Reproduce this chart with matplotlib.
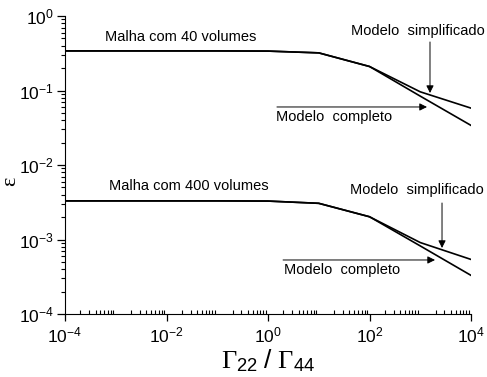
import numpy as np
import matplotlib
matplotlib.use("Agg")
import matplotlib.pyplot as plt

plt.rcParams['font.family'] = ['Liberation Sans', 'DejaVu Sans']
plt.rcParams['mathtext.fontset'] = 'custom'
plt.rcParams['mathtext.rm'] = 'Liberation Serif'
plt.rcParams['mathtext.it'] = 'Liberation Serif:italic'
plt.rcParams['mathtext.sf'] = 'Liberation Sans'

# data
gamma_ratio = [1e-4, 1e-3, 1e-2, 1e-1, 1e0, 1e1, 1e2, 1e3, 1e4]
m40_simplificado = [0.340, 0.340, 0.340, 0.340, 0.338, 0.320, 0.210, 0.096, 0.058]
m40_completo = [0.340, 0.340, 0.340, 0.340, 0.338, 0.320, 0.210, 0.084, 0.034]
m400_simplificado = [0.00330, 0.00330, 0.00330, 0.00330, 0.00328, 0.00306, 0.00202, 0.00091, 0.00054]
m400_completo = [0.00330, 0.00330, 0.00330, 0.00330, 0.00328, 0.00306, 0.00202, 0.00082, 0.00033]

fig = plt.figure(figsize=(4.87, 3.77), dpi=100)
ax = fig.add_axes([65/487, 63/377, 406/487, 298/377])

for serie in [m40_simplificado, m40_completo, m400_simplificado, m400_completo]:
    ax.plot(gamma_ratio, serie, color='black', lw=1.2)

ax.set_xscale('log')
ax.set_yscale('log')
ax.set_xlim(1e-4, 1e4)
ax.set_ylim(1e-4, 1e0)
ax.set_xticks([1e-4, 1e-2, 1e0, 1e2, 1e4])
ax.set_yticks([1e-4, 1e-3, 1e-2, 1e-1, 1e0])
ax.xaxis.set_minor_locator(matplotlib.ticker.LogLocator(base=10, subs=np.arange(2, 10), numticks=20))
ax.yaxis.set_minor_locator(matplotlib.ticker.LogLocator(base=10, subs=np.arange(2, 10), numticks=20))
ax.xaxis.set_minor_formatter(matplotlib.ticker.NullFormatter())
ax.yaxis.set_minor_formatter(matplotlib.ticker.NullFormatter())


def pot10(v, pos):
    e = int(round(np.log10(v)))
    return r'$\mathsf{10^{%d}}$' % e


ax.xaxis.set_major_formatter(matplotlib.ticker.FuncFormatter(pot10))
ax.yaxis.set_major_formatter(matplotlib.ticker.FuncFormatter(pot10))

ax.spines['top'].set_visible(False)
ax.spines['right'].set_visible(False)
ax.tick_params(axis='x', which='major', direction='out', length=5, width=0.9, labelsize=12.5, pad=3)
ax.tick_params(axis='x', which='minor', direction='in', length=3, width=0.8)
ax.tick_params(axis='y', which='major', direction='out', length=6, width=0.9, labelsize=12.5, pad=2)
ax.tick_params(axis='y', which='minor', direction='out', length=3, width=0.8)

ax.set_xlabel(r'$\Gamma_{\mathsf{22}}\ \mathsf{/}\ \Gamma_{\mathsf{44}}$', fontsize=19, labelpad=2)
ax.set_ylabel('ε', fontfamily='Liberation Serif', fontsize=16)
ax.yaxis.set_label_coords(-0.11, 0.446)

fs = 10.5
arrow = dict(arrowstyle='-|>', color='black', lw=0.7, mutation_scale=11, shrinkA=0, shrinkB=0)

ax.text(0.0193, 0.522, 'Malha com 40 volumes', fontsize=fs, ha='center', va='center')
ax.text(0.0277, 0.00522, 'Malha com 400 volumes', fontsize=fs, ha='center', va='center')

ax.text(904, 0.629, 'Modelo  simplificado', fontsize=fs, ha='center', va='center')
ax.annotate('', xy=(1556, 0.0925), xytext=(1556, 0.448), arrowprops=arrow)
ax.text(20.4, 0.0441, 'Modelo  completo', fontsize=fs, ha='center', va='center')
ax.annotate('', xy=(1358, 0.0601), xytext=(1.5, 0.0601), arrowprops=arrow)

ax.text(843, 0.00462, 'Modelo  simplificado', fontsize=fs, ha='center', va='center')
ax.annotate('', xy=(2685, 0.000769), xytext=(2685, 0.00309), arrowprops=arrow)
ax.text(29.4, 0.00039, 'Modelo  completo', fontsize=fs, ha='center', va='center')
ax.annotate('', xy=(1954, 0.000531), xytext=(1.98, 0.000531), arrowprops=arrow)

fig.savefig('out.png', dpi=100)
